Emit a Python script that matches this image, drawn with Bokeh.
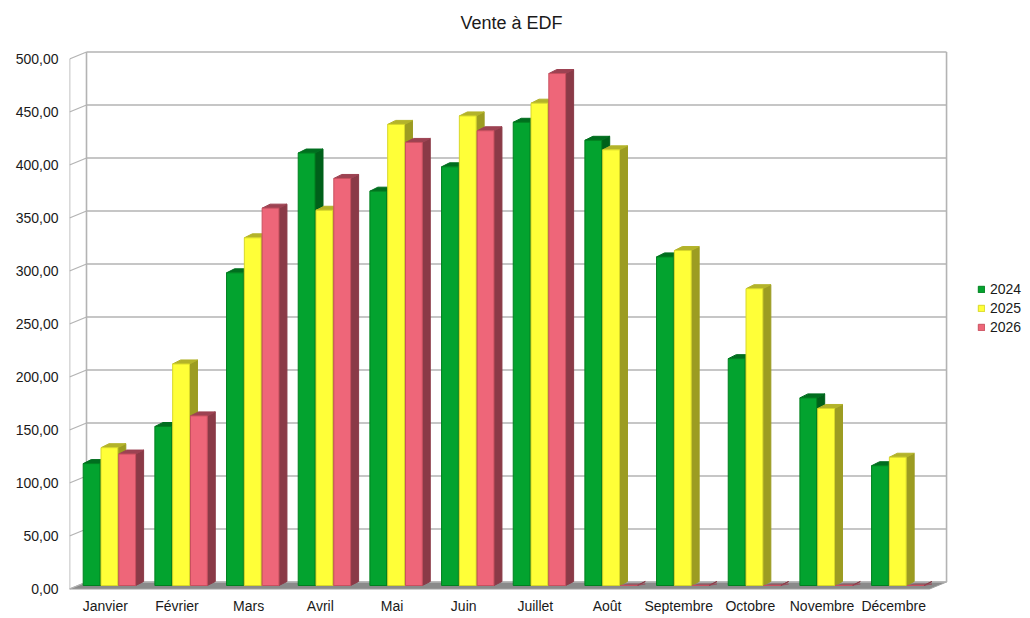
from bokeh.plotting import figure
from bokeh.models import Range1d, FixedTicker, Legend, LegendItem
from bokeh.core.properties import value
from bokeh.embed import file_html
from bokeh.resources import INLINE

# ---------------- data ----------------
title_text = "Vente à EDF"
months = ["Janvier", "Février", "Mars", "Avril", "Mai", "Juin", "Juillet",
          "Août", "Septembre", "Octobre", "Novembre", "Décembre"]
series_names = ["2024", "2025", "2026"]
v2024 = [115, 150, 295, 408, 372, 395, 437, 420, 310, 214, 177, 113]
v2025 = [130, 209, 328, 354, 435, 443, 455, 411, 316, 280, 167, 121]
v2026 = [124, 160, 356, 384, 418, 429, 483, 0, 0, 0, 0, 0]
y_ticks = [0, 50, 100, 150, 200, 250, 300, 350, 400, 450, 500]
y_tick_labels = ["0,00", "50,00", "100,00", "150,00", "200,00", "250,00",
                 "300,00", "350,00", "400,00", "450,00", "500,00"]

front_colors = ["#03a32f", "#ffff38", "#ee6679"]
side_colors = ["#00601a", "#9c9c22", "#8a3a47"]
top_colors = ["#006e1f", "#b3b32a", "#9c4252"]
edge_colors = ["#01801f", "#d8d82a", "#c9505f"]

# ---------------- projection constants (px -> data) ----------------
W, H = 1030, 618
CAT = 71.67      # px per category
YPX = 1.06       # px per value unit
Y0 = 588.5       # y (px from top) of value 0 on the front plane
X0 = 69          # x of front left edge
BACK_DX = 17 / CAT
BACK_DY = 7 / YPX
BAR_START = 13.7 / CAT
BAR_PITCH = 17.8 / CAT
BAR_W = 16.8 / CAT
BAR_BASE = 3.3
SIDE_DX = 8 / CAT
SIDE_DY = 4 / YPX
FLAT_DY = 1.5 / YPX
N = len(months)

FONT = "Liberation Sans"
TXT = "#1a1a1a"

p = figure(width=W, height=H, output_backend="svg", toolbar_location=None,
           x_range=Range1d(0, (W - X0) / CAT),
           y_range=Range1d((Y0 - H) / YPX, Y0 / YPX),
           min_border_left=X0, min_border_right=0, min_border_top=0,
           min_border_bottom=0)
p.outline_line_color = None
p.grid.visible = False
p.xaxis.visible = False
p.background_fill_color = "white"
p.border_fill_color = "white"

# y axis
p.yaxis.ticker = FixedTicker(ticks=y_ticks)
p.yaxis.major_label_overrides = {t: l for t, l in zip(y_ticks, y_tick_labels)}
p.yaxis.axis_line_color = None
p.yaxis.major_tick_line_color = None
p.yaxis.minor_tick_line_color = None
p.yaxis.major_tick_out = 0
p.yaxis.major_label_standoff = 11
p.yaxis.major_label_text_font = FONT
p.yaxis.major_label_text_font_size = "14px"
p.yaxis.major_label_text_color = TXT

# title and category labels (text)
p.text(x=[(511 - X0) / CAT], y=[(Y0 - 22) / YPX], text=[title_text],
       text_font=value(FONT), text_font_size="18px", text_color=TXT,
       text_align="center", text_baseline="middle")
centers = [i + 0.5 for i in range(N)]
p.text(x=centers, y=[(Y0 - 605.5) / YPX] * N, text=months,
       text_font=value(FONT), text_font_size="14px", text_color=TXT,
       text_align="center", text_baseline="middle")

grid_col = "#b3b3b3"
# floor
p.patch([0, N, N + BACK_DX, BACK_DX], [0, 0, BACK_DY, BACK_DY],
        fill_color="#8a8a8a", line_color="#a0a0a0", line_width=1)
# back wall grid lines
p.segment(x0=[BACK_DX] * len(y_ticks), y0=[t + BACK_DY for t in y_ticks],
          x1=[N + BACK_DX] * len(y_ticks), y1=[t + BACK_DY for t in y_ticks],
          line_color=grid_col, line_width=1.6)
# left wall diagonals
p.segment(x0=[0] * len(y_ticks), y0=y_ticks,
          x1=[BACK_DX] * len(y_ticks), y1=[t + BACK_DY for t in y_ticks],
          line_color=grid_col, line_width=1.3)
# wall edges
top_v = y_ticks[-1]
p.segment(x0=[0, BACK_DX, N + BACK_DX], y0=[0, BACK_DY, BACK_DY],
          x1=[0, BACK_DX, N + BACK_DX], y1=[top_v, top_v + BACK_DY, top_v + BACK_DY],
          line_color=grid_col, line_width=1.6)

# bars
legend_items = []
for s, vals in enumerate([v2024, v2025, v2026]):
    xl = [i + BAR_START + s * BAR_PITCH for i in range(N)]
    xr = [x + BAR_W for x in xl]
    tops = [v + BAR_BASE for v in vals]
    side_xs = [[r, r + SIDE_DX, r + SIDE_DX, r] for r in xr]
    side_ys = [[BAR_BASE, BAR_BASE + SIDE_DY, t + SIDE_DY, t] for t in tops]
    p.patches(side_xs, side_ys, fill_color=side_colors[s], line_color=side_colors[s], line_width=1)
    top_xs = [[l, r, r + SIDE_DX, l + SIDE_DX] for l, r in zip(xl, xr)]
    top_dy = [SIDE_DY if v > 0 else FLAT_DY for v in vals]
    top_ys = [[t, t, t + d, t + d] for t, d in zip(tops, top_dy)]
    top_alpha = [1.0 if v > 0 else 0.55 for v in vals]
    p.patches(xs=top_xs, ys=top_ys, fill_color=top_colors[s], line_color=top_colors[s],
              line_width=1, fill_alpha=top_alpha, line_alpha=top_alpha)
    r = p.quad(left=xl, right=xr, bottom=[BAR_BASE] * N, top=tops,
               fill_color=front_colors[s], line_color=edge_colors[s], line_width=1)
    legend_items.append(LegendItem(label=series_names[s], renderers=[r]))

legend = Legend(items=legend_items, location=(977 - X0, H - 335))
legend.border_line_color = None
legend.background_fill_alpha = 0
legend.glyph_width = 8
legend.glyph_height = 8
legend.label_height = 16
legend.spacing = 3
legend.label_standoff = 5
legend.padding = 0
legend.margin = 0
legend.label_text_font = FONT
legend.label_text_font_size = "14px"
legend.label_text_color = TXT
p.add_layout(legend)

open("out.html", "w").write(file_html(p, INLINE))
